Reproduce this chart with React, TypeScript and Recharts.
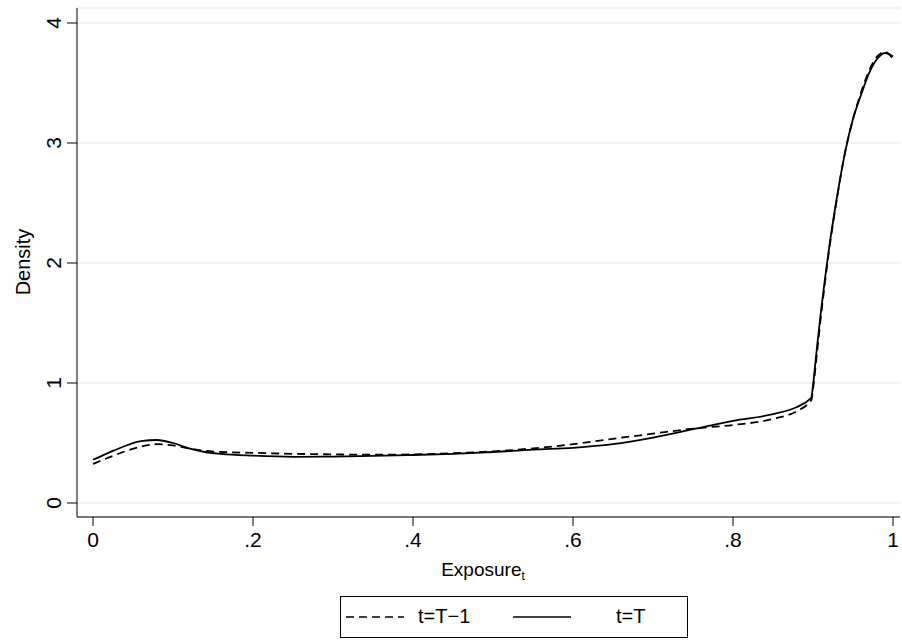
import React from 'react';
import { LineChart, Line, XAxis, YAxis, CartesianGrid } from 'recharts';

const exposure = [
  0, 0.02, 0.04, 0.06, 0.08, 0.1, 0.12, 0.14, 0.16, 0.2, 0.25, 0.3, 0.35, 0.4,
  0.45, 0.5, 0.55, 0.6, 0.65, 0.7, 0.75, 0.8, 0.85, 0.88, 0.895, 0.898, 0.9,
  0.905, 0.91, 0.915, 0.92, 0.93, 0.94, 0.95, 0.96, 0.97, 0.98, 0.99, 1.0,
];

const densityPrev = [
  0.325, 0.38, 0.43, 0.47, 0.49, 0.48, 0.455, 0.435, 0.425, 0.418, 0.41, 0.405,
  0.402, 0.405, 0.415, 0.43, 0.455, 0.49, 0.535, 0.578, 0.62, 0.65, 0.7, 0.765,
  0.835, 0.86, 0.95, 1.25, 1.56, 1.84, 2.1, 2.54, 2.92, 3.2, 3.42, 3.6, 3.72,
  3.76, 3.7,
];

const densityCur = [
  0.36, 0.42, 0.475, 0.515, 0.525, 0.5, 0.455, 0.425, 0.41, 0.395, 0.385, 0.387,
  0.392, 0.4, 0.41, 0.425, 0.445, 0.46, 0.49, 0.545, 0.615, 0.685, 0.74, 0.8,
  0.86, 0.88, 0.98, 1.3, 1.6, 1.87, 2.12, 2.55, 2.92, 3.2, 3.4, 3.58, 3.7, 3.75,
  3.72,
];

const xTicks = [0, 0.2, 0.4, 0.6, 0.8, 1];
const yTicks = [0, 1, 2, 3, 4];

const data = exposure.map((x, i) => ({
  x,
  prev: densityPrev[i],
  cur: densityCur[i],
}));

const FONT = '"Liberation Sans", Arial, Helvetica, sans-serif';

const fmtX = (v: number) => (v === 0 ? '0' : v === 1 ? '1' : String(v).replace(/^0/, ''));

const YTick = (props: any) => {
  const { x, y, payload } = props;
  const tx = x - 4;
  return (
    <text
      x={tx}
      y={y}
      transform={`rotate(-90, ${tx}, ${y})`}
      textAnchor="middle"
      fontFamily={FONT}
      fontSize={21}
      fill="#000"
    >
      {payload.value}
    </text>
  );
};

const XTick = (props: any) => {
  const { x, y, payload } = props;
  return (
    <text x={x} y={y + 19} textAnchor="middle" fontFamily={FONT} fontSize={21} fill="#000">
      {fmtX(payload.value)}
    </text>
  );
};

// legend drawn as a plain box under the plot, Stata style
const LegendBox = () => (
  <div
    style={{
      position: 'absolute',
      left: 340,
      top: 596,
      width: 348,
      height: 42,
      border: '1px solid #000',
      fontFamily: FONT,
      fontSize: 20,
      boxSizing: 'border-box',
    }}
  >
    <svg width={60} height={10} style={{ position: 'absolute', left: 5, top: 15 }}>
      <line x1={0} y1={5} x2={58} y2={5} stroke="#000" strokeWidth={1.6} strokeDasharray="8 5" />
    </svg>
    <span style={{ position: 'absolute', left: 77, top: 8 }}>t=T−1</span>
    <svg width={60} height={10} style={{ position: 'absolute', left: 172, top: 15 }}>
      <line x1={0} y1={5} x2={58} y2={5} stroke="#000" strokeWidth={1.6} />
    </svg>
    <span style={{ position: 'absolute', left: 275, top: 8 }}>t=T</span>
  </div>
);

export default function App() {
  return (
    <div style={{ position: 'absolute', left: 0, top: 0, width: 902, height: 642, background: '#fff' }}>
      <LineChart
        width={902}
        height={642}
        data={data}
        margin={{ top: 8, right: 2, bottom: 65, left: 0 }}
      >
        <CartesianGrid horizontal vertical={false} stroke="#e8eff2" strokeWidth={1.5} />
        <XAxis
          type="number"
          dataKey="x"
          domain={[-0.02, 1.00875]}
          allowDataOverflow
          ticks={xTicks}
          tick={<XTick />}
          tickSize={9}
          height={60}
          stroke="#000"
          tickLine={{ stroke: '#000' }}
          label={{
            content: () => (
              <text x={483} y={576} textAnchor="middle" fontFamily={FONT} fontSize={19} fill="#000">
                Exposure
                <tspan fontSize={12} dy={4}>t</tspan>
              </text>
            ),
          }}
        />
        <YAxis
          type="number"
          domain={[-0.1167, 4.125]}
          allowDataOverflow
          ticks={yTicks}
          tick={<YTick />}
          tickSize={10}
          width={77}
          stroke="#000"
          tickLine={{ stroke: '#000' }}
          label={{
            content: () => (
              <text
                x={30}
                y={262}
                transform="rotate(-90, 30, 262)"
                textAnchor="middle"
                fontFamily={FONT}
                fontSize={20}
                fill="#000"
              >
                Density
              </text>
            ),
          }}
        />
        <Line
          type="monotone"
          dataKey="prev"
          stroke="#000"
          strokeWidth={1.8}
          strokeDasharray="8 5"
          dot={false}
          isAnimationActive={false}
        />
        <Line
          type="monotone"
          dataKey="cur"
          stroke="#000"
          strokeWidth={1.8}
          dot={false}
          isAnimationActive={false}
        />
      </LineChart>
      <LegendBox />
    </div>
  );
}
